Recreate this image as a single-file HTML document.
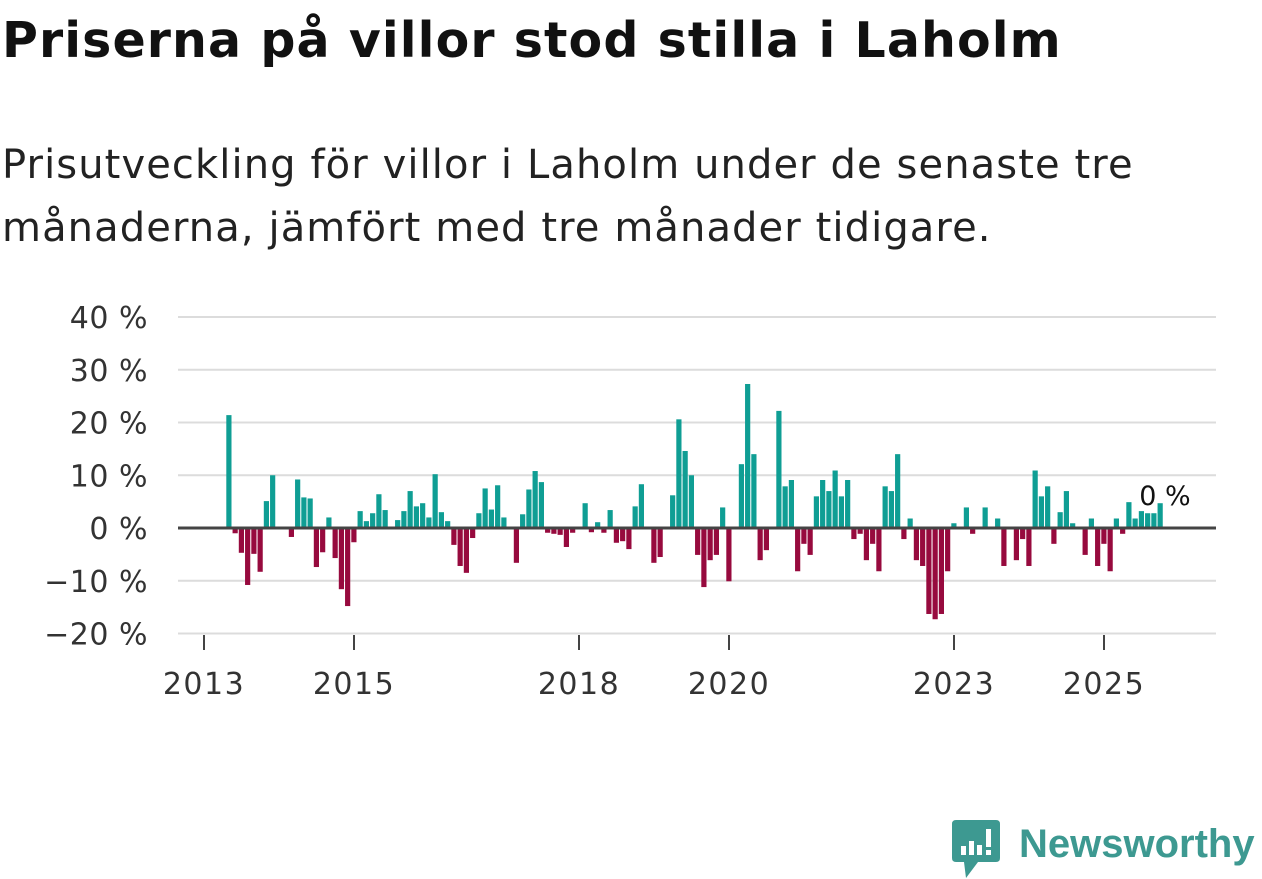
<!DOCTYPE html>
<html><head><meta charset="utf-8">
<style>
body{margin:0;background:#fff;width:1262px;height:879px;overflow:hidden;font-family:"DejaVu Sans","Liberation Sans",sans-serif;color:#111;}
h1{position:absolute;left:2px;top:12px;margin:0;font-size:49px;font-weight:bold;letter-spacing:1.1px;white-space:nowrap;}
.sub{position:absolute;left:2px;top:134px;margin:0;font-size:40px;line-height:63px;color:#222;letter-spacing:1.1px;white-space:nowrap;}
svg{position:absolute;left:0;top:0;}
</style></head>
<body>
<h1>Priserna på villor stod stilla i Laholm</h1>
<p class="sub">Prisutveckling för villor i Laholm under de senaste tre<br>månaderna, jämfört med tre månader tidigare.</p>
<svg id="chart" width="1262" height="879"></svg>
<div style="position:absolute;left:952px;top:820px;width:310px;height:59px;">
<svg width="50" height="59" style="position:absolute;left:0;top:0">
<path d="M4 0H44Q48 0 48 4V38Q48 42 44 42H26L14 58L12 42H4Q0 42 0 38V4Q0 0 4 0Z" fill="#3d9991"/>
<rect x="9" y="26" width="5" height="9" fill="#fff"/><rect x="17" y="21" width="5" height="14" fill="#fff"/><rect x="25" y="25" width="5" height="10" fill="#fff"/><rect x="34" y="9" width="5" height="18" fill="#fff"/><rect x="34" y="30" width="5" height="5" fill="#fff"/>
</svg>
<div style="position:absolute;left:67px;top:2px;font-family:'Liberation Sans',sans-serif;font-size:40px;font-weight:bold;color:#3d9991;">Newsworthy</div>
</div>
<script>
const startMonth = 4; // months after Jan 2013 for first bar
const values = [21.4,-1,-4.7,-10.8,-4.9,-8.3,5.1,10,0,0,-1.7,9.2,5.8,5.6,-7.4,-4.6,2,-5.7,-11.6,-14.8,-2.7,3.2,1.3,2.8,6.4,3.4,0,1.5,3.2,7,4.1,4.7,2,10.2,3,1.3,-3.2,-7.2,-8.5,-1.9,2.8,7.5,3.5,8.1,2,0,-6.6,2.6,7.3,10.8,8.7,-0.9,-1.1,-1.3,-3.6,-0.9,0,4.7,-0.8,1.1,-0.9,3.4,-2.8,-2.5,-4,4.1,8.3,0,-6.6,-5.5,0,6.2,20.6,14.6,10,-5.1,-11.2,-6.1,-5.1,3.9,-10.1,0,12.1,27.3,14,-6.1,-4.2,0,22.2,7.9,9.1,-8.2,-3,-5.1,6,9.1,7,10.9,6,9.1,-2.1,-1.1,-6.1,-3,-8.2,7.9,7,14,-2.1,1.8,-6.1,-7.2,-16.3,-17.3,-16.3,-8.2,0.9,0,3.9,-1.1,0,3.9,0,1.8,-7.2,0,-6.1,-2.1,-7.2,10.9,6,7.9,-3,3,7,0.9,0,-5.1,1.8,-7.2,-3,-8.2,1.8,-1.1,4.9,1.8,3.2,2.8,2.8,4.7];
const yTicks = [40,30,20,10,0,-10,-20];
const yTickLabels = ["40 %","30 %","20 %","10 %","0 %","\u221210 %","\u221220 %"];
const xTicks = [2013,2015,2018,2020,2023,2025];
const lastLabel = "0 %";

const NS="http://www.w3.org/2000/svg";
const svg=document.getElementById('chart');
const y0=528, pxPer=5.275;
const FF='DejaVu Sans, Liberation Sans, sans-serif';
function ys(v){return y0 - v*pxPer;}
function xm(m){return 204 + 6.25*m;}
function xy(year){return xm((year-2013)*12);}
function el(t,a){const e=document.createElementNS(NS,t);for(const k in a)e.setAttribute(k,a[k]);svg.appendChild(e);return e;}
yTicks.forEach((t,i)=>{
  if(t!==0){const g=el('line',{x1:178,x2:1216,y1:ys(t),y2:ys(t),stroke:'#dcdcdc','stroke-width':2});
  
  }
  const tx=el('text',{x:148,y:ys(t)+11,'text-anchor':'end','font-size':30,'letter-spacing':0.5,fill:'#333','font-family':FF});
  tx.textContent=yTickLabels[i];
  
  
});
values.forEach((v,i)=>{
  const cx=xm(startMonth+i);
  const r=el('rect',{x:cx-2.7,width:5.2,y:Math.min(ys(v),y0),height:Math.abs(ys(v)-y0),fill:v>=0?'#0f9e94':'#970a3e'});
  
  
});
const zl=el('line',{x1:178,x2:1216,y1:y0,y2:y0,stroke:'#444','stroke-width':3});


xTicks.forEach(yr=>{
  const x=xy(yr);
  const tk=el('line',{x1:x,x2:x,y1:635,y2:650,stroke:'#444','stroke-width':2});
  
  
  const tx=el('text',{x:x,y:694,'text-anchor':'middle','font-size':30,'letter-spacing':1.5,fill:'#333','font-family':FF});
  tx.textContent=yr;
  
  
});
const lx=xm(startMonth+values.length-1);
const an=el('text',{x:lx-21,y:ys(values[values.length-1])+2,'font-size':27,fill:'#111',stroke:'#fff','stroke-width':4,'paint-order':'stroke','font-family':FF});
an.textContent=lastLabel;


</script>
</body></html>
